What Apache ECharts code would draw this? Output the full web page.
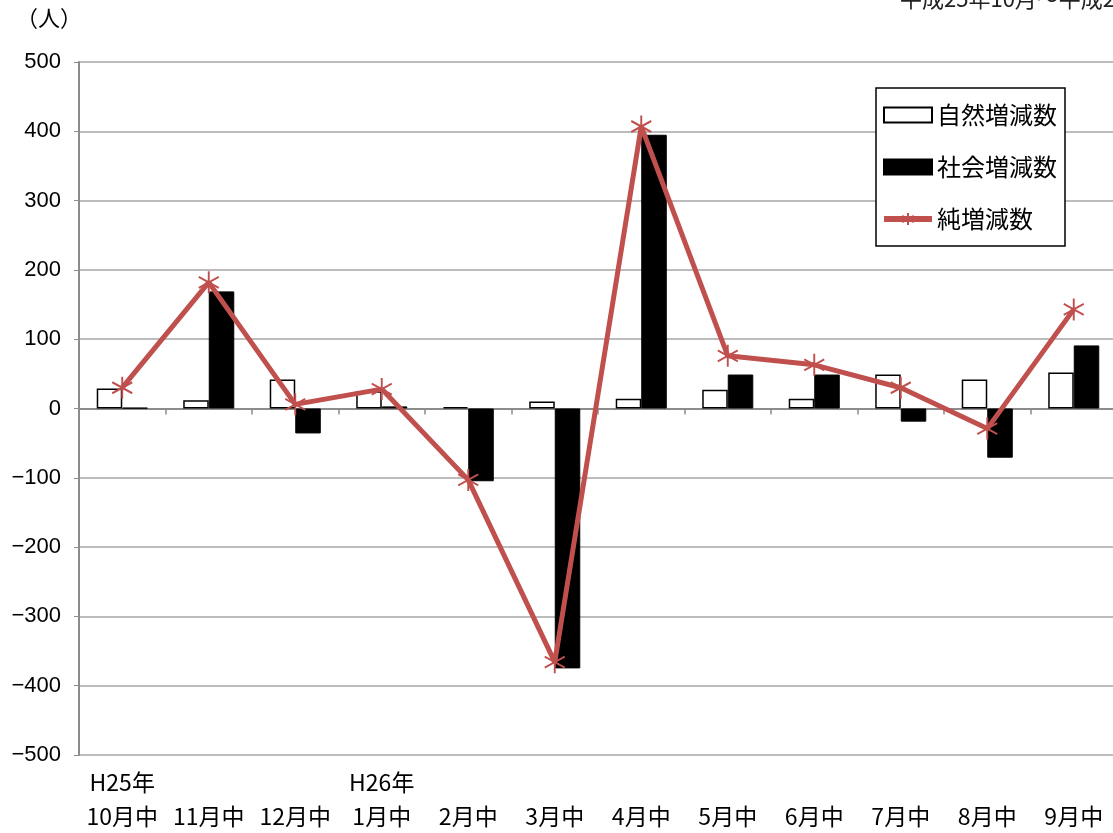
<!DOCTYPE html>
<html><head><meta charset="utf-8">
<script src="https://cdn.jsdelivr.net/npm/echarts@6/dist/echarts.min.js"></script>
<style>html,body{margin:0;padding:0;background:#fff}#c{width:1113px;height:833px}</style>
</head><body><div id="c"></div>
<script>
const categories = ['H25年\n10月中','\n11月中','\n12月中','H26年\n1月中','\n2月中','\n3月中','\n4月中','\n5月中','\n6月中','\n7月中','\n8月中','\n9月中'];
const natural = [29, 12, 42, 25, 2, 10, 14, 27, 14, 49, 42, 52];
const social = [1, 169, -36, 3, -105, -375, 395, 49, 49, -19, -71, 91];
const net = [30, 182, 6, 28, -103, -366, 407, 76, 63, 30, -29, 143];
const seriesNames = ['自然増減数','社会増減数','純増減数'];
const yTicks = {min:-500, max:500, interval:100};
const unitLabel = '（人）';
const periodLabel = '平成25年10月～平成26年9月';

const asterisk = 'path://M0,-10L0,10M-8.66,-5L8.66,5M-8.66,5L8.66,-5';
const chart = echarts.init(document.getElementById('c'));
chart.setOption({
  animation:false,
  grid:{left:79, top:62, bottom:78, width:1038, outerBoundsMode:'none', containLabel:false},
  graphic:[
    {type:'text', left:16, top:7, style:{text:unitLabel, font:'22px "Noto Sans CJK JP"', fill:'#000'}},
    {type:'text', left:900, top:-12, style:{text:periodLabel, font:'22px "Noto Sans CJK JP"', fill:'#222'}}
  ],
  legend:{
    orient:'vertical', left:876, top:88,
    padding:[15,8,15,5], itemGap:28, itemWidth:48, itemHeight:15,
    borderColor:'#000', borderWidth:1.5, backgroundColor:'#fff',
    lineStyle:{width:6},
    textStyle:{fontFamily:'Noto Sans CJK JP', fontSize:24, color:'#000'},
    data:[{name:seriesNames[0], icon:'rect'},{name:seriesNames[1], icon:'rect'},{name:seriesNames[2]}]
  },
  xAxis:[{
    type:'category', data:categories, boundaryGap:true, position:'bottom',
    axisLine:{onZero:true, lineStyle:{color:'#8c8c8c', width:2}},
    axisTick:{show:true, length:6, lineStyle:{color:'#8c8c8c', width:1.5}},
    axisLabel:{show:false},
    splitLine:{show:false}
  },{
    type:'category', data:categories, boundaryGap:true, position:'bottom',
    axisLine:{show:false, onZero:false},
    axisTick:{show:false},
    axisLabel:{show:true, interval:0, margin:10, fontFamily:'Noto Sans CJK JP', fontSize:23, color:'#000', lineHeight:34},
    splitLine:{show:false}
  }],
  yAxis:{
    type:'value', min:yTicks.min, max:yTicks.max, interval:yTicks.interval,
    axisLine:{show:true, lineStyle:{color:'#8c8c8c', width:2}},
    axisTick:{show:true, length:5, lineStyle:{color:'#8c8c8c'}},
    axisLabel:{margin:18, fontFamily:'Liberation Sans', fontSize:22, color:'#000',
      formatter:v=>String(v).replace('-','−')},
    splitLine:{lineStyle:{color:'#a6a6a6', width:1.5}}
  },
  series:[
    {name:seriesNames[0], type:'bar', data:natural, barGap:'0%', barCategoryGap:'41%',
     itemStyle:{color:'#fff', borderColor:'#000', borderWidth:1.5}},
    {name:seriesNames[1], type:'bar', data:social,
     itemStyle:{color:'#000', borderColor:'#000', borderWidth:1}},
    {name:seriesNames[2], type:'line', data:net, z:5,
     symbol:asterisk, symbolSize:[20,22],
     lineStyle:{color:'#C0504D', width:5},
     itemStyle:{color:'#C0504D', borderColor:'#C0504D', borderWidth:2}}
  ]
});
</script></body></html>
